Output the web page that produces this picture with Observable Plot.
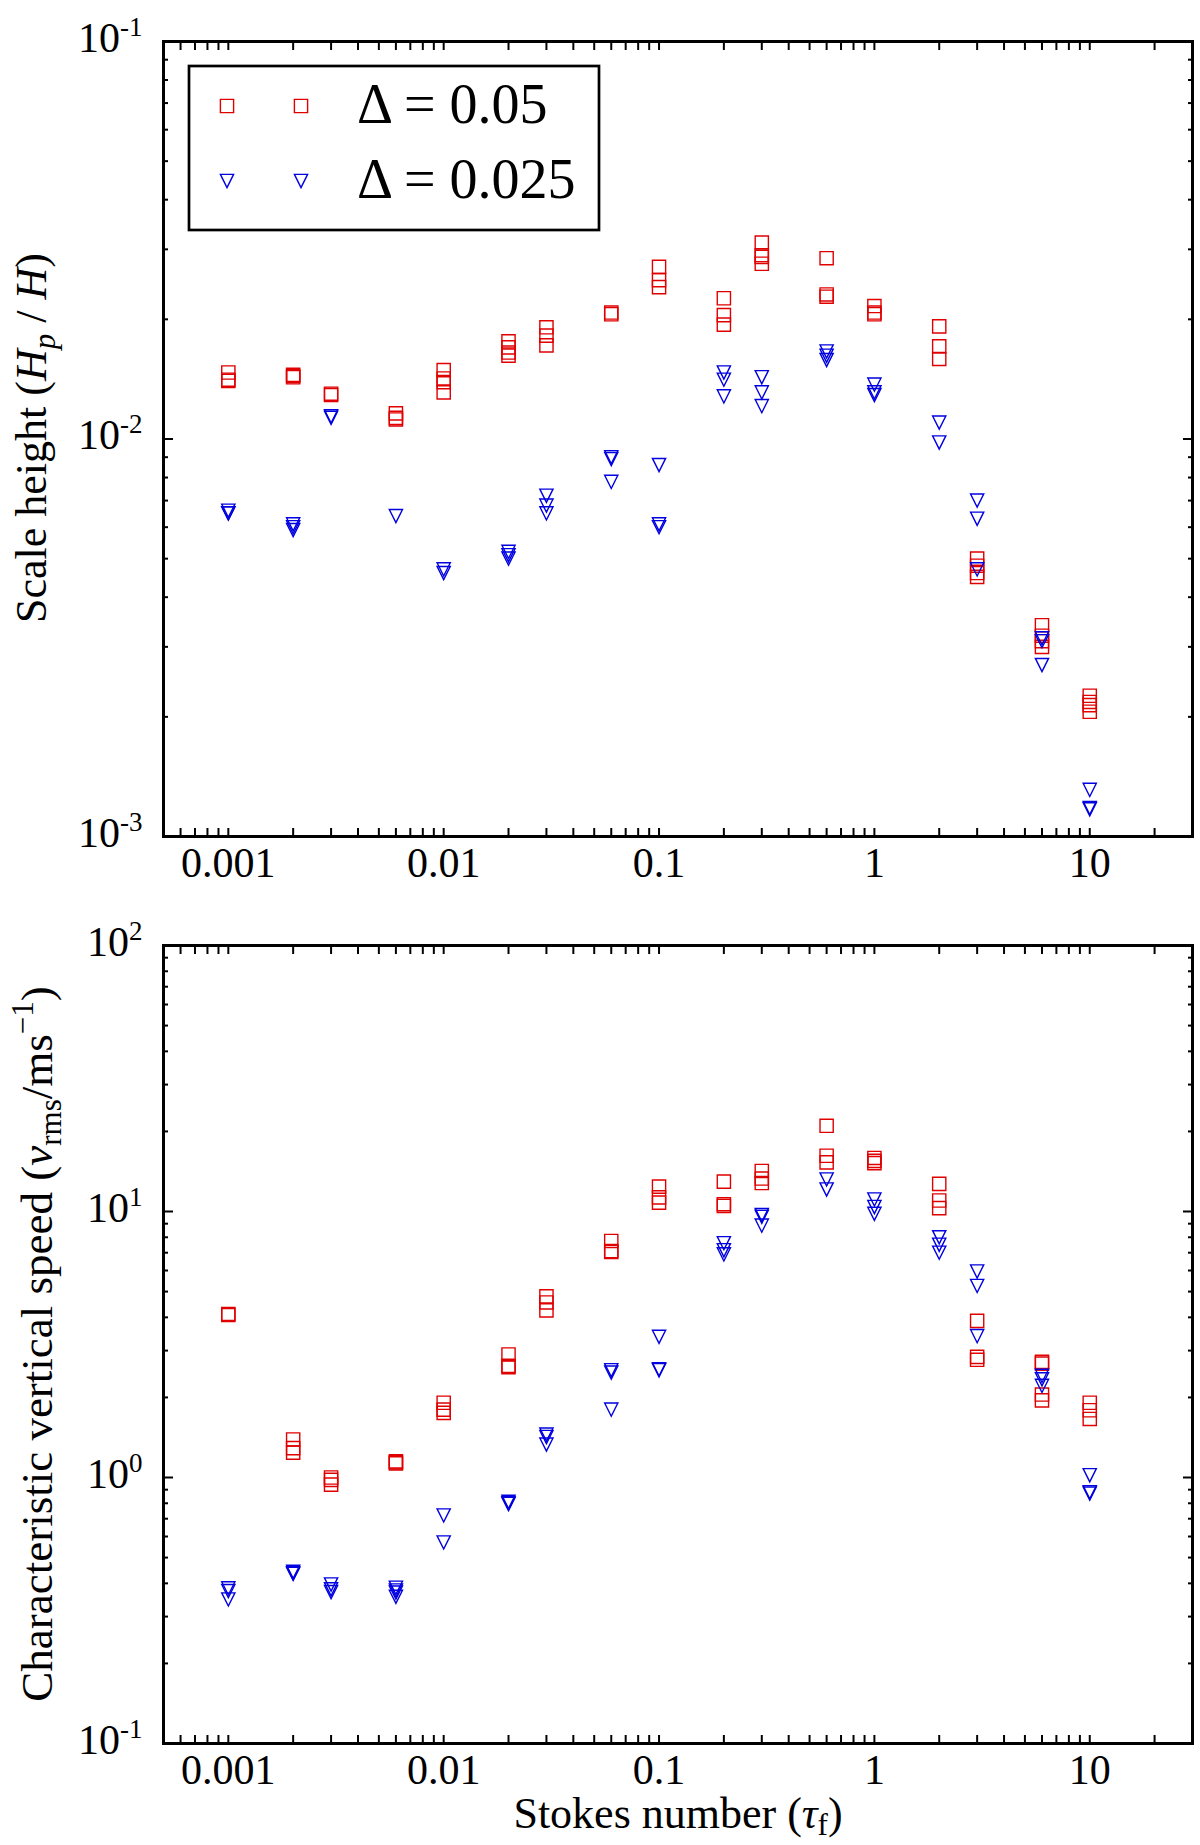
<!DOCTYPE html>
<html>
<head>
<meta charset="utf-8">
<script src="https://cdn.jsdelivr.net/npm/d3@7"></script>
<script src="https://cdn.jsdelivr.net/npm/@observablehq/plot@0.6"></script>
<style>
html, body { margin: 0; padding: 0; background: #fff; }
#chart svg { display: block; }
</style>
</head>
<body>
<div id="chart"></div>
<script>
// ---------------- data ----------------
const stokes = [0.001, 0.002, 0.003, 0.006, 0.01, 0.02, 0.03, 0.06, 0.1, 0.2, 0.3, 0.6, 1, 2, 3, 6, 10];

// Scale height Hp/H, Delta = 0.05 (red squares)
const scaleHeight005 = [
  [0.0147, 0.0141, 0.0140],
  [0.0145, 0.0144, 0.0143],
  [0.0130, 0.0129],
  [0.0116, 0.0113, 0.0112],
  [0.0149, 0.0142, 0.0139, 0.0131],
  [0.0176, 0.0170, 0.0165, 0.0162],
  [0.0191, 0.0182, 0.0172],
  [0.0208, 0.0206],
  [0.0271, 0.0251, 0.0241],
  [0.0226, 0.0205, 0.0194],
  [0.0312, 0.0290, 0.0287, 0.0276],
  [0.0285, 0.0231, 0.0228],
  [0.0216, 0.0208, 0.0206],
  [0.0192, 0.0171, 0.0159],
  [0.0050, 0.0048, 0.0046, 0.0045],
  [0.0034, 0.0032, 0.0031, 0.0030],
  [0.00226, 0.00218, 0.00214, 0.00206]
];

// Scale height Hp/H, Delta = 0.025 (blue triangles)
const scaleHeight0025 = [
  [0.0066, 0.0065, 0.0065],
  [0.0061, 0.0060, 0.0059],
  [0.0114, 0.0113],
  [0.0064],
  [0.0047, 0.0046],
  [0.0052, 0.0051, 0.0050],
  [0.0072, 0.0068, 0.0065],
  [0.0090, 0.0089, 0.0078],
  [0.0086, 0.0061, 0.0060],
  [0.0147, 0.0141, 0.0128],
  [0.0143, 0.0131, 0.0121],
  [0.0166, 0.0162, 0.0158],
  [0.0137, 0.0131, 0.0129],
  [0.0110, 0.0098],
  [0.0070, 0.0063, 0.0047],
  [0.00315, 0.0031, 0.0027],
  [0.00131, 0.00118, 0.00117]
];

// Characteristic vertical speed v_rms (m/s), Delta = 0.05
const vrms005 = [
  [4.12, 4.08],
  [1.39, 1.29, 1.24],
  [1.00, 0.98, 0.94],
  [1.15, 1.14, 1.13],
  [1.91, 1.80, 1.75],
  [2.90, 2.63, 2.60],
  [4.80, 4.55, 4.25],
  [7.75, 7.10, 7.05],
  [12.4, 11.3, 10.8],
  [12.95, 10.65, 10.5],
  [14.2, 13.3, 12.8],
  [21.0, 16.2, 15.3],
  [15.9, 15.5, 15.2],
  [12.7, 11.0, 10.3],
  [3.88, 2.84, 2.77],
  [2.72, 2.68, 2.05, 1.95],
  [1.91, 1.79, 1.66]
];

// Characteristic vertical speed v_rms (m/s), Delta = 0.025
const vrms0025 = [
  [0.383, 0.374, 0.348],
  [0.442, 0.436, 0.434],
  [0.396, 0.380, 0.371],
  [0.385, 0.376, 0.369, 0.356],
  [0.72, 0.57],
  [0.81, 0.80, 0.795],
  [1.45, 1.42, 1.33],
  [2.53, 2.48, 1.80],
  [3.38, 2.55, 2.53],
  [7.6, 7.15, 6.9],
  [9.7, 9.55, 8.85],
  [13.2, 12.1],
  [11.1, 10.4, 9.8],
  [8.0, 7.5, 7.0],
  [5.95, 5.25, 3.4],
  [2.41, 2.34, 2.21],
  [1.02, 0.88, 0.87]
];

const xDomain = [0.0005, 30];
const xTickValues = [0.001, 0.01, 0.1, 1, 10];
const xTickLabels = ["0.001", "0.01", "0.1", "1", "10"];
const topYDomain = [0.001, 0.1];
const topYTicks = [0.001, 0.01, 0.1];
const bottomYDomain = [0.1, 100];
const bottomYTicks = [0.1, 1, 10, 100];
const legendLabels = ["Δ = 0.05", "Δ = 0.025"];

// ---------------- helpers ----------------
const RED = "#e00000";
const BLUE = "#0000e0";
const FONT = "'Liberation Serif', 'Times New Roman', Times, serif";

function toRows(values) {
  return stokes.flatMap((s, i) => values[i].map((v) => ({x: s, y: v})));
}
function minorTicks(lo, hi) {
  const t = [];
  for (let e = Math.floor(Math.log10(lo)) - 1; e <= Math.ceil(Math.log10(hi)); e++) {
    for (let m = 2; m <= 9; m++) {
      const v = +(m * Math.pow(10, e)).toPrecision(6);
      if (v > lo * 1.0001 && v < hi * 0.9999) t.push(v);
    }
  }
  return t;
}
const squareSym = {
  draw(ctx, size) {
    const r = Math.sqrt(size / Math.PI);
    ctx.moveTo(-r, -r); ctx.lineTo(r, -r); ctx.lineTo(r, r); ctx.lineTo(-r, r); ctx.closePath();
  }
};
const triDownSym = {
  draw(ctx, size) {
    const r = Math.sqrt(size / Math.PI);
    ctx.moveTo(-r, -r); ctx.lineTo(r, -r); ctx.lineTo(0, r); ctx.closePath();
  }
};
const MR = 6.6;
const MSW = 1.4;

function richText(sel, parts) {
  let shift = 0;
  for (const p of parts) {
    const ts = sel.append("tspan").text(p.t);
    if (p.italic) ts.attr("font-style", "italic");
    if (p.size) ts.attr("font-size", p.size);
    const target = p.shift || 0;
    if (target !== shift) { ts.attr("dy", target - shift); shift = target; }
  }
}

function panel({height, marginTop, marginBottom, yDomain, yMajor, red, blue}) {
  const xMinor = minorTicks(xDomain[0], xDomain[1]);
  const yMinor = minorTicks(yDomain[0], yDomain[1]);
  const yMajorIn = yMajor.filter((v) => v > yDomain[0] && v < yDomain[1]);
  const tk = {fill: "none", label: null, strokeWidth: 2, stroke: "black"};
  const svg = Plot.plot({
    width: 1200,
    height,
    marginLeft: 163,
    marginRight: 8,
    marginTop,
    marginBottom,
    style: {fontFamily: FONT, fontSize: "42px", background: "white", color: "black", overflow: "visible"},
    x: {type: "log", domain: xDomain},
    y: {type: "log", domain: yDomain},
    marks: [
      Plot.dot(red, {x: "x", y: "y", symbol: squareSym, r: MR, stroke: RED, fill: "none", strokeWidth: MSW}),
      Plot.dot(blue, {x: "x", y: "y", symbol: triDownSym, r: MR, stroke: BLUE, fill: "none", strokeWidth: MSW}),
      Plot.axisX({anchor: "bottom", ticks: xMinor.concat(xTickValues), tickSize: -8, ...tk}),
      Plot.axisX({anchor: "top", ticks: xMinor.concat(xTickValues), tickSize: -8, ...tk}),
      Plot.axisY({anchor: "left", ticks: yMajorIn, tickSize: -10, ...tk}),
      Plot.axisY({anchor: "left", ticks: yMinor, tickSize: -5, ...tk}),
      Plot.axisY({anchor: "right", ticks: yMajorIn, tickSize: -10, ...tk}),
      Plot.axisY({anchor: "right", ticks: yMinor, tickSize: -5, ...tk}),
      Plot.axisX({anchor: "bottom", ticks: xTickValues, tickSize: 0, tickPadding: 11, label: null,
        tickFormat: (d) => xTickLabels[xTickValues.indexOf(d)]}),
      Plot.axisY({anchor: "left", ticks: yMajor, tickSize: 0, tickPadding: 21, label: null, dy: -3,
        tickFormat: () => "10"}),
      Plot.frame({stroke: "black", strokeWidth: 3})
    ]
  });
  // superscript exponents on the y tick labels
  const labels = svg.querySelectorAll('g[aria-label="y-axis tick label"] text');
  labels.forEach((el, i) => {
    const e = Math.round(Math.log10(yMajor[i]));
    d3.select(el).append("tspan").attr("font-size", "27px").attr("dy", -16).text(e < 0 ? "-" + (-e) : String(e));
  });
  return svg;
}

// ---------------- build ----------------
const topSvg = panel({
  height: 890, marginTop: 41, marginBottom: 54,
  yDomain: topYDomain, yMajor: topYTicks,
  red: toRows(scaleHeight005), blue: toRows(scaleHeight0025)
});
const bottomSvg = panel({
  height: 955, marginTop: 55, marginBottom: 102,
  yDomain: bottomYDomain, yMajor: bottomYTicks,
  red: toRows(vrms005), blue: toRows(vrms0025)
});

// top y label
{
  const t = d3.select(topSvg).append("text")
    .attr("transform", "translate(46,438) rotate(-90)")
    .attr("text-anchor", "middle").attr("font-family", FONT).attr("font-size", "44px").attr("fill", "black");
  richText(t, [
    {t: "Scale height ("},
    {t: "H", italic: true},
    {t: "p", italic: true, size: "31px", shift: 9},
    {t: " / "},
    {t: "H", italic: true},
    {t: ")"}
  ]);
}
// legend
{
  const g = d3.select(topSvg).append("g").attr("aria-label", "legend");
  g.append("rect").attr("x", 189).attr("y", 66).attr("width", 410).attr("height", 164)
    .attr("fill", "white").attr("stroke", "black").attr("stroke-width", 2.7);
  const syms = [[squareSym, RED], [triDownSym, BLUE]];
  const rows = [106, 181];
  syms.forEach(([sym, col], i) => {
    [227, 301].forEach((x) => {
      g.append("path").attr("d", d3.symbol(sym, Math.PI * MR * MR)())
        .attr("transform", `translate(${x},${rows[i]})`)
        .attr("fill", "none").attr("stroke", col).attr("stroke-width", MSW);
    });
    g.append("text").attr("x", 357).attr("y", rows[i] + 17)
      .attr("text-anchor", "start")
      .attr("font-family", FONT).attr("font-size", "56px").attr("fill", "black")
      .text(legendLabels[i]);
  });
}
// bottom y label
{
  const t = d3.select(bottomSvg).append("text")
    .attr("transform", "translate(52,454) rotate(-90)")
    .attr("text-anchor", "middle").attr("font-family", FONT).attr("font-size", "45px").attr("fill", "black");
  richText(t, [
    {t: "Characteristic vertical speed ("},
    {t: "v", italic: true},
    {t: "rms", size: "31px", shift: 9},
    {t: "/ms"},
    {t: "−1", size: "31px", shift: -19},
    {t: ")"}
  ]);
}
// x label
{
  const t = d3.select(bottomSvg).append("text")
    .attr("x", 678).attr("y", 938)
    .attr("text-anchor", "middle").attr("font-family", FONT).attr("font-size", "44px").attr("fill", "black");
  richText(t, [
    {t: "Stokes number ("},
    {t: "τ", italic: true},
    {t: "f", size: "31px", shift: 7},
    {t: ")"}
  ]);
}

document.getElementById("chart").append(topSvg, bottomSvg);
</script>
</body>
</html>
